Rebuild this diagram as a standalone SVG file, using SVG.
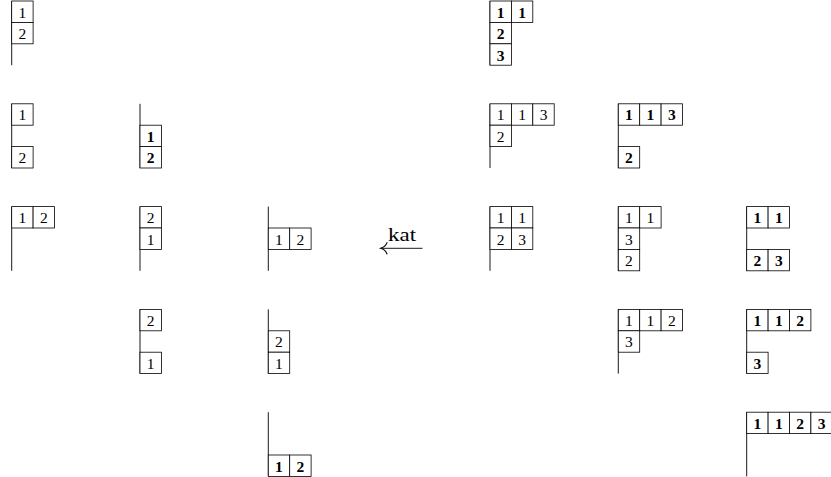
<svg xmlns="http://www.w3.org/2000/svg" width="831" height="477" viewBox="0 0 831 477" font-family="'Liberation Serif','DejaVu Serif',serif">
<defs>
<style>
rect{fill:#fff;stroke:#000;stroke-width:0.8}
.ln{stroke:#000;stroke-width:0.9;fill:none}
.ah{stroke:#000;stroke-width:1.1;fill:none;stroke-linecap:round}
text{font-family:"Liberation Serif","DejaVu Serif",serif;font-size:15.5px;text-anchor:middle;fill:#000}
.b text{font-weight:bold}
.lbl{font-size:19px;text-anchor:start}
</style>
</defs>
<rect x="0" y="0" width="831" height="477" style="stroke:none;fill:#fff"/>

<g id="t-r0c0" transform="translate(11.7,1)">
<path class="ln" d="M0,0V64.2"/>
<rect x="0" y="0" width="21.4" height="21.4"/><text x="10.7" y="16.7">1</text>
<rect x="0" y="21.4" width="21.4" height="21.4"/><text x="10.7" y="38.1">2</text>
</g>

<g id="t-r0c3" class="b" transform="translate(490,1)">
<path class="ln" d="M0,0V64.2"/>
<rect x="0" y="0" width="21.4" height="21.4"/><text x="10.7" y="16.7">1</text>
<rect x="21.4" y="0" width="21.4" height="21.4"/><text x="32.1" y="16.7">1</text>
<rect x="0" y="21.4" width="21.4" height="21.4"/><text x="10.7" y="38.1">2</text>
<rect x="0" y="42.8" width="21.4" height="21.4"/><text x="10.7" y="59.5">3</text>
</g>

<g id="t-r1c0" transform="translate(11.7,103.8)">
<path class="ln" d="M0,0V64.2"/>
<rect x="0" y="0" width="21.4" height="21.4"/><text x="10.7" y="16.7">1</text>
<rect x="0" y="42.8" width="21.4" height="21.4"/><text x="10.7" y="59.5">2</text>
</g>

<g id="t-r1c1" class="b" transform="translate(140,103.8)">
<path class="ln" d="M0,0V64.2"/>
<rect x="0" y="21.4" width="21.4" height="21.4"/><text x="10.7" y="38.1">1</text>
<rect x="0" y="42.8" width="21.4" height="21.4"/><text x="10.7" y="59.5">2</text>
</g>

<g id="t-r1c3" transform="translate(490,103.8)">
<path class="ln" d="M0,0V64.2"/>
<rect x="0" y="0" width="21.4" height="21.4"/><text x="10.7" y="16.7">1</text>
<rect x="21.4" y="0" width="21.4" height="21.4"/><text x="32.1" y="16.7">1</text>
<rect x="42.8" y="0" width="21.4" height="21.4"/><text x="53.5" y="16.7">3</text>
<rect x="0" y="21.4" width="21.4" height="21.4"/><text x="10.7" y="38.1">2</text>
</g>

<g id="t-r1c4" class="b" transform="translate(618.3,103.8)">
<path class="ln" d="M0,0V64.2"/>
<rect x="0" y="0" width="21.4" height="21.4"/><text x="10.7" y="16.7">1</text>
<rect x="21.4" y="0" width="21.4" height="21.4"/><text x="32.1" y="16.7">1</text>
<rect x="42.8" y="0" width="21.4" height="21.4"/><text x="53.5" y="16.7">3</text>
<rect x="0" y="42.8" width="21.4" height="21.4"/><text x="10.7" y="59.5">2</text>
</g>

<g id="t-r2c0" transform="translate(11.7,206.6)">
<path class="ln" d="M0,0V64.2"/>
<rect x="0" y="0" width="21.4" height="21.4"/><text x="10.7" y="16.7">1</text>
<rect x="21.4" y="0" width="21.4" height="21.4"/><text x="32.1" y="16.7">2</text>
</g>

<g id="t-r2c1" transform="translate(140,206.6)">
<path class="ln" d="M0,0V64.2"/>
<rect x="0" y="0" width="21.4" height="21.4"/><text x="10.7" y="16.7">2</text>
<rect x="0" y="21.4" width="21.4" height="21.4"/><text x="10.7" y="38.1">1</text>
</g>

<g id="t-r2c2" transform="translate(268.3,206.6)">
<path class="ln" d="M0,0V64.2"/>
<rect x="0" y="21.4" width="21.4" height="21.4"/><text x="10.7" y="38.1">1</text>
<rect x="21.4" y="21.4" width="21.4" height="21.4"/><text x="32.1" y="38.1">2</text>
</g>

<g id="t-r2c3" transform="translate(490,206.6)">
<path class="ln" d="M0,0V64.2"/>
<rect x="0" y="0" width="21.4" height="21.4"/><text x="10.7" y="16.7">1</text>
<rect x="21.4" y="0" width="21.4" height="21.4"/><text x="32.1" y="16.7">1</text>
<rect x="0" y="21.4" width="21.4" height="21.4"/><text x="10.7" y="38.1">2</text>
<rect x="21.4" y="21.4" width="21.4" height="21.4"/><text x="32.1" y="38.1">3</text>
</g>

<g id="t-r2c4" transform="translate(618.3,206.6)">
<path class="ln" d="M0,0V64.2"/>
<rect x="0" y="0" width="21.4" height="21.4"/><text x="10.7" y="16.7">1</text>
<rect x="21.4" y="0" width="21.4" height="21.4"/><text x="32.1" y="16.7">1</text>
<rect x="0" y="21.4" width="21.4" height="21.4"/><text x="10.7" y="38.1">3</text>
<rect x="0" y="42.8" width="21.4" height="21.4"/><text x="10.7" y="59.5">2</text>
</g>

<g id="t-r2c5" class="b" transform="translate(746.7,206.6)">
<path class="ln" d="M0,0V64.2"/>
<rect x="0" y="0" width="21.4" height="21.4"/><text x="10.7" y="16.7">1</text>
<rect x="21.4" y="0" width="21.4" height="21.4"/><text x="32.1" y="16.7">1</text>
<rect x="0" y="42.8" width="21.4" height="21.4"/><text x="10.7" y="59.5">2</text>
<rect x="21.4" y="42.8" width="21.4" height="21.4"/><text x="32.1" y="59.5">3</text>
</g>

<g id="t-r3c1" transform="translate(140,309.4)">
<path class="ln" d="M0,0V64.2"/>
<rect x="0" y="0" width="21.4" height="21.4"/><text x="10.7" y="16.7">2</text>
<rect x="0" y="42.8" width="21.4" height="21.4"/><text x="10.7" y="59.5">1</text>
</g>

<g id="t-r3c2" transform="translate(268.3,309.4)">
<path class="ln" d="M0,0V64.2"/>
<rect x="0" y="21.4" width="21.4" height="21.4"/><text x="10.7" y="38.1">2</text>
<rect x="0" y="42.8" width="21.4" height="21.4"/><text x="10.7" y="59.5">1</text>
</g>

<g id="t-r3c4" transform="translate(618.3,309.4)">
<path class="ln" d="M0,0V64.2"/>
<rect x="0" y="0" width="21.4" height="21.4"/><text x="10.7" y="16.7">1</text>
<rect x="21.4" y="0" width="21.4" height="21.4"/><text x="32.1" y="16.7">1</text>
<rect x="42.8" y="0" width="21.4" height="21.4"/><text x="53.5" y="16.7">2</text>
<rect x="0" y="21.4" width="21.4" height="21.4"/><text x="10.7" y="38.1">3</text>
</g>

<g id="t-r3c5" class="b" transform="translate(746.7,309.4)">
<path class="ln" d="M0,0V64.2"/>
<rect x="0" y="0" width="21.4" height="21.4"/><text x="10.7" y="16.7">1</text>
<rect x="21.4" y="0" width="21.4" height="21.4"/><text x="32.1" y="16.7">1</text>
<rect x="42.8" y="0" width="21.4" height="21.4"/><text x="53.5" y="16.7">2</text>
<rect x="0" y="42.8" width="21.4" height="21.4"/><text x="10.7" y="59.5">3</text>
</g>

<g id="t-r4c2" class="b" transform="translate(268.3,412.2)">
<path class="ln" d="M0,0V64.2"/>
<rect x="0" y="42.8" width="21.4" height="21.4"/><text x="10.7" y="59.5">1</text>
<rect x="21.4" y="42.8" width="21.4" height="21.4"/><text x="32.1" y="59.5">2</text>
</g>

<g id="t-r4c5" class="b" transform="translate(746.7,412.2)">
<path class="ln" d="M0,0V64.2"/>
<rect x="0" y="0" width="21.4" height="21.4"/><text x="10.7" y="16.7">1</text>
<rect x="21.4" y="0" width="21.4" height="21.4"/><text x="32.1" y="16.7">1</text>
<rect x="42.8" y="0" width="21.4" height="21.4"/><text x="53.5" y="16.7">2</text>
<rect x="64.2" y="0" width="21.4" height="21.4"/><text x="74.9" y="16.7">3</text>
</g>

<g id="connectors">
<path class="ln" d="M422.5,248.3H381"/>
<path class="ah" d="M387,242.6Q385.5,246.8 380.6,248.3Q385.5,249.8 387,254"/>
<text class="lbl" x="388" y="241" textLength="28" lengthAdjust="spacingAndGlyphs">kat</text>
</g>
</svg>
